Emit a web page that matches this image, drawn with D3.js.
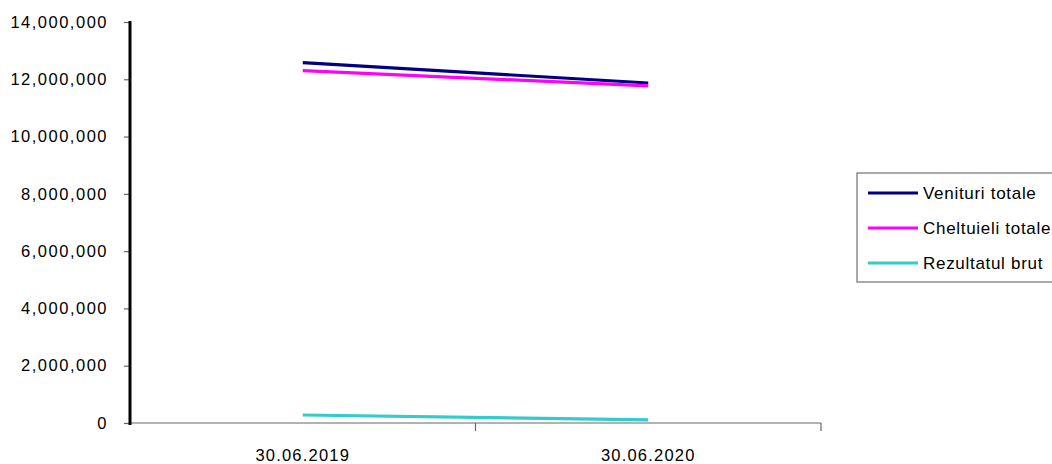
<!DOCTYPE html>
<html>
<head>
<meta charset="utf-8">
<script src="https://cdn.jsdelivr.net/npm/d3@7"></script>
<style>
  body { margin: 0; background: #fff; }
  text { font-family: "Liberation Sans", Arial, sans-serif; fill: #000; }
</style>
</head>
<body>
<div id="chart"></div>
<script>
const categories = ['30.06.2019', '30.06.2020']
const seriesNames = ['Venituri totale', 'Cheltuieli totale', 'Rezultatul brut']
const venituri = [12580000, 11870000]
const cheltuieli = [12300000, 11770000]
const rezultat = [280000, 110000]
const yTicks = [0, 2000000, 4000000, 6000000, 8000000, 10000000, 12000000, 14000000]
const colors = ['#000080', '#ff00ff', '#33cccc']

const WIDTH = 1052
const HEIGHT = 464
const plot = { left: 130, right: 821, top: 22, bottom: 423 }

const svg = d3.select('#chart')
  .append('svg')
  .attr('width', WIDTH)
  .attr('height', HEIGHT)

const x = d3.scaleBand()
  .domain(categories)
  .range([plot.left, plot.right])
  .padding(0)

const y = d3.scaleLinear()
  .domain([0, 14000000])
  .range([plot.bottom, plot.top])

// x axis: gray baseline with ticks at the band edges
const xAxis = svg.append('g')
  .attr('transform', `translate(0,${plot.bottom})`)
xAxis.append('line')
  .attr('x1', plot.left).attr('x2', plot.right)
  .attr('stroke', '#666').attr('stroke-width', 1.2)
const edges = categories.map(c => x(c)).concat([plot.right])
xAxis.selectAll('.xtick')
  .data(edges.slice(1))
  .enter()
  .append('line')
  .attr('x1', d => d).attr('x2', d => d)
  .attr('y1', 0).attr('y2', 8)
  .attr('stroke', '#666').attr('stroke-width', 1.2)
xAxis.selectAll('.xlabel')
  .data(categories)
  .enter()
  .append('text')
  .attr('x', d => x(d) + x.bandwidth() / 2)
  .attr('y', 38)
  .attr('text-anchor', 'middle')
  .style('font-size', '16.5px')
  .style('letter-spacing', '1.2px')
  .text(d => d)

// y axis
const yAxis = svg.append('g')
  .attr('transform', `translate(${plot.left},0)`)
  .call(d3.axisLeft(y).tickValues(yTicks).tickSize(6).tickFormat(d3.format(',')))
yAxis.select('.domain').remove()
yAxis.selectAll('.tick line').attr('stroke', '#666').attr('stroke-width', 1.2)
yAxis.selectAll('.tick text')
  .attr('x', -22)
  .style('font-size', '16.5px')
  .style('letter-spacing', '1.5px')
  .style('font-family', '"Liberation Sans", Arial, sans-serif')
yAxis.append('line')
  .attr('y1', plot.top - 1).attr('y2', plot.bottom + 2)
  .attr('stroke', '#000').attr('stroke-width', 3)

// lines
const data = [venituri, cheltuieli, rezultat]
const line = d3.line()
  .x((d, i) => x(categories[i]) + x.bandwidth() / 2)
  .y(d => y(d))

svg.selectAll('.series')
  .data(data)
  .enter()
  .append('path')
  .attr('d', d => line(d))
  .attr('fill', 'none')
  .attr('stroke', (d, i) => colors[i])
  .attr('stroke-width', 3.2)

// legend
const legend = svg.append('g').attr('transform', 'translate(857,173)')
legend.append('rect')
  .attr('x', 0).attr('y', 0)
  .attr('width', 200).attr('height', 109)
  .attr('fill', '#fff').attr('stroke', '#555').attr('stroke-width', 1)
const item = legend.selectAll('.item')
  .data(seriesNames)
  .enter()
  .append('g')
  .attr('transform', (d, i) => `translate(0,${20 + i * 35})`)
item.append('line')
  .attr('x1', 11).attr('x2', 61)
  .attr('stroke', (d, i) => colors[i])
  .attr('stroke-width', 3)
item.append('text')
  .attr('x', 66)
  .attr('y', 6)
  .style('font-size', '17px')
  .style('letter-spacing', '0.7px')
  .text(d => d)
</script>
</body>
</html>
